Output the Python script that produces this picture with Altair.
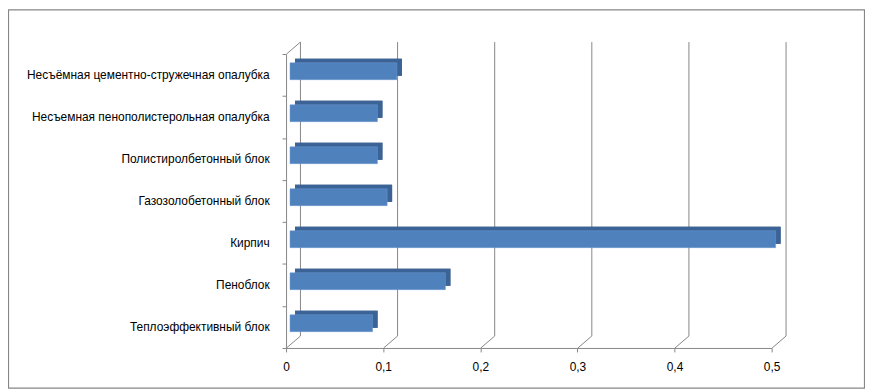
import altair as alt
import pandas as pd

# ---- data ----
categories = [
    "Несъёмная цементно-стружечная  опалубка",
    "Несъемная пенополистерольная опалубка",
    "Полистиролбетонный блок",
    "Газозолобетонный блок",
    "Кирпич",
    "Пеноблок",
    "Теплоэффективный блок",
]
values = [0.11, 0.09, 0.09, 0.10, 0.50, 0.16, 0.085]
tick_values = [0, 0.1, 0.2, 0.3, 0.4, 0.5]

df = pd.DataFrame({"cat": categories, "val": values})
gdf = pd.DataFrame({"t": tick_values})

W, H = 489, 296
DX, DY = 14, -12          # 3-D depth of the walls
GRID = "#868686"
FONT = "Liberation Sans"

xs = alt.Scale(domain=[0, 0.5], nice=False, zero=True)
ys = alt.Scale(domain=categories, paddingInner=0, paddingOuter=0)

x_axis = alt.Axis(
    values=tick_values, title=None, grid=False, labelFlush=False,
    labelExpr="datum.value == 0 ? '0' : replace(format(datum.value, '.1f'), '.', ',')",
    tickSize=4, tickColor=GRID, domainColor=GRID,
    labelPadding=10, labelFont=FONT, labelFontSize=12, labelColor="#000000",
)
y_axis = alt.Axis(
    title=None, grid=False, tickBand="extent",
    tickSize=4, tickColor=GRID, domainColor=GRID,
    labelPadding=13, labelFont=FONT, labelFontSize=12, labelColor="#000000",
    labelLimit=400,
)

# back-wall gridlines
grid = alt.Chart(gdf).mark_rule(color=GRID, strokeWidth=1, xOffset=DX + 0.5).encode(
    x=alt.X("t:Q", scale=xs, axis=x_axis),
    y=alt.value(DY),
    y2=alt.value(H + DY),
)

# floor diagonals
floor = alt.Chart(gdf).mark_rule(color=GRID, strokeWidth=1, xOffset=0.5, x2Offset=DX + 0.5).encode(
    x=alt.X("t:Q", scale=xs, axis=x_axis),
    x2=alt.X2("t:Q"),
    y=alt.value(H),
    y2=alt.value(H + DY),
)

# top-left wall diagonal
wall_top = alt.Chart(gdf).transform_filter("datum.t == 0").mark_rule(
    color=GRID, strokeWidth=1, xOffset=0.5, x2Offset=DX + 0.5
).encode(
    x=alt.X("t:Q", scale=xs, axis=x_axis),
    x2=alt.X2("t:Q"),
    y=alt.value(0),
    y2=alt.value(DY),
)

# dark side face of the 3-D bars
bars_side = alt.Chart(df).mark_bar(
    color="#2F4D78", size=17, xOffset=9, x2Offset=9, yOffset=-7.8, y2Offset=-7.8
).encode(
    x=alt.X("val:Q", scale=xs, axis=x_axis),
    y=alt.Y("cat:N", sort=categories, scale=ys, axis=y_axis),
)

# top face of the 3-D bars
bars_top = alt.Chart(df).mark_bar(
    color="#3C6396", size=17, xOffset=9, x2Offset=4, yOffset=-7.8, y2Offset=-7.8
).encode(
    x=alt.X("val:Q", scale=xs, axis=x_axis),
    y=alt.Y("cat:N", sort=categories, scale=ys, axis=y_axis),
)

# front faces
bars = alt.Chart(df).mark_bar(
    color="#4F81BD", size=17, xOffset=4, x2Offset=4, yOffset=-3.8, y2Offset=-3.8,
    stroke="#6C9AD2", strokeWidth=0.5,
).encode(
    x=alt.X("val:Q", scale=xs, axis=x_axis),
    y=alt.Y("cat:N", sort=categories, scale=ys, axis=y_axis),
)

# outer chart frame
frame = alt.Chart(alt.Data(values=[{}])).mark_rect(
    fillOpacity=0, stroke=GRID, strokeWidth=1.2
).encode(
    x=alt.value(-279.5), x2=alt.value(582.5),
    y=alt.value(-44.5), y2=alt.value(336.5),
)

chart = alt.layer(frame, grid, floor, wall_top, bars_side, bars_top, bars).properties(
    width=W, height=H,
    autosize=alt.AutoSizeParams(type="none"),
    padding={"left": 280, "top": 45, "right": 94, "bottom": 41},
    background="white",
).configure_view(stroke=None)

chart.save("out.html", embed_options={"renderer": "svg", "actions": False})
